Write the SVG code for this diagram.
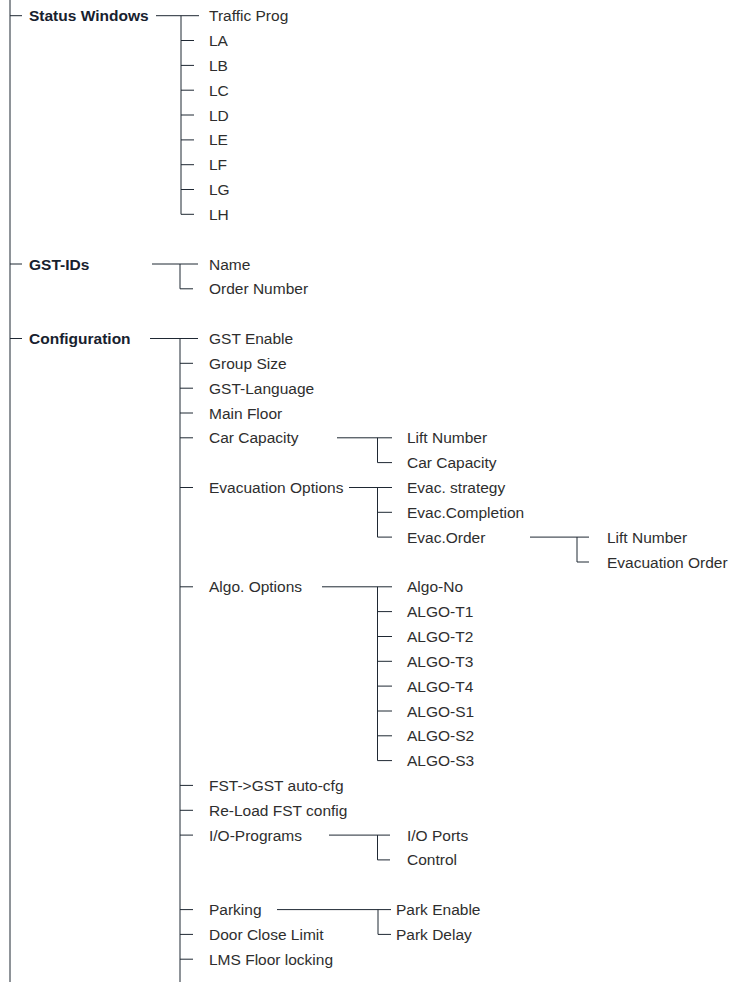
<svg xmlns="http://www.w3.org/2000/svg" width="732" height="982" viewBox="0 0 732 982">
<style>
.b{font-family:"Liberation Sans",Arial,sans-serif;font-size:15.5px;font-weight:bold;fill:#17212e}
.t{font-family:"Liberation Sans",Arial,sans-serif;font-size:15.5px;fill:#2e2e2e}
#connectors path{stroke:#1f2833;stroke-width:1;fill:none}
</style>
<rect width="732" height="982" fill="#ffffff"/>
<g id="connectors">
<path d="M10 0V982"/>
<path d="M10 15.7H22M10 264H22M10 338.5H22"/>
<path d="M156 15.7H199M181 15.7V214.3"/>
<path d="M181 40.5H194M181 65.4H194M181 90.2H194M181 115H194M181 139.9H194M181 164.7H194M181 189.5H194M181 214.3H194"/>
<path d="M152 264H198M180 264V288.8H193"/>
<path d="M150 338.5H198M180 338.5V982"/>
<path d="M180 363.3H193M180 388.2H193M180 413H193M180 437.8H193M180 487.5H193M180 586.8H193M180 785.4H193M180 810.3H193M180 835.1H193M180 909.6H193M180 934.4H193M180 959.2H193"/>
<path d="M337 437.8H392M377.5 437.8V462.6H392"/>
<path d="M349 487.5H392M377.5 487.5V537.1H392M377.5 512.3H392"/>
<path d="M530 537.1H589M577 537.1V562H589"/>
<path d="M322 586.8H392M377.5 586.8V760.6M377.5 611.6H392M377.5 636.5H392M377.5 661.3H392M377.5 686.1H392M377.5 711H392M377.5 735.8H392M377.5 760.6H392"/>
<path d="M329 835.1H390M377.5 835.1V859.9H390"/>
<path d="M277 909.6H391M378 909.6V934.4H391"/>
</g>
<g id="status-windows"><text class="b" x="29" y="21.2">Status Windows</text></g>
<g id="traffic-prog"><text class="t" x="209" y="21.2">Traffic Prog</text></g>
<g id="la"><text class="t" x="209" y="46">LA</text></g>
<g id="lb"><text class="t" x="209" y="70.9">LB</text></g>
<g id="lc"><text class="t" x="209" y="95.7">LC</text></g>
<g id="ld"><text class="t" x="209" y="120.5">LD</text></g>
<g id="le"><text class="t" x="209" y="145.4">LE</text></g>
<g id="lf"><text class="t" x="209" y="170.2">LF</text></g>
<g id="lg"><text class="t" x="209" y="195">LG</text></g>
<g id="lh"><text class="t" x="209" y="219.8">LH</text></g>
<g id="gst-ids"><text class="b" x="29" y="269.5">GST-IDs</text></g>
<g id="name"><text class="t" x="209" y="269.5">Name</text></g>
<g id="order-number"><text class="t" x="209" y="294.3">Order Number</text></g>
<g id="configuration"><text class="b" x="29" y="344">Configuration</text></g>
<g id="gst-enable"><text class="t" x="209" y="344">GST Enable</text></g>
<g id="group-size"><text class="t" x="209" y="368.8">Group Size</text></g>
<g id="gst-language"><text class="t" x="209" y="393.7">GST-Language</text></g>
<g id="main-floor"><text class="t" x="209" y="418.5">Main Floor</text></g>
<g id="car-capacity"><text class="t" x="209" y="443.3">Car Capacity</text></g>
<g id="cc-lift-number"><text class="t" x="407" y="443.3">Lift Number</text></g>
<g id="cc-car-capacity"><text class="t" x="407" y="468.1">Car Capacity</text></g>
<g id="evacuation-options"><text class="t" x="209" y="493">Evacuation Options</text></g>
<g id="evac-strategy"><text class="t" x="407" y="493">Evac. strategy</text></g>
<g id="evac-completion"><text class="t" x="407" y="517.8">Evac.Completion</text></g>
<g id="evac-order"><text class="t" x="407" y="542.6">Evac.Order</text></g>
<g id="eo-lift-number"><text class="t" x="607" y="542.6">Lift Number</text></g>
<g id="evacuation-order"><text class="t" x="607" y="567.5">Evacuation Order</text></g>
<g id="algo-options"><text class="t" x="209" y="592.3">Algo. Options</text></g>
<g id="algo-no"><text class="t" x="407" y="592.3">Algo-No</text></g>
<g id="algo-t1"><text class="t" x="407" y="617.1">ALGO-T1</text></g>
<g id="algo-t2"><text class="t" x="407" y="642">ALGO-T2</text></g>
<g id="algo-t3"><text class="t" x="407" y="666.8">ALGO-T3</text></g>
<g id="algo-t4"><text class="t" x="407" y="691.6">ALGO-T4</text></g>
<g id="algo-s1"><text class="t" x="407" y="716.5">ALGO-S1</text></g>
<g id="algo-s2"><text class="t" x="407" y="741.3">ALGO-S2</text></g>
<g id="algo-s3"><text class="t" x="407" y="766.1">ALGO-S3</text></g>
<g id="fst-gst-auto-cfg"><text class="t" x="209" y="790.9">FST-&gt;GST auto-cfg</text></g>
<g id="reload-fst-config"><text class="t" x="209" y="815.8">Re-Load FST config</text></g>
<g id="io-programs"><text class="t" x="209" y="840.6">I/O-Programs</text></g>
<g id="io-ports"><text class="t" x="407" y="840.6">I/O Ports</text></g>
<g id="control"><text class="t" x="407" y="865.4">Control</text></g>
<g id="parking"><text class="t" x="209" y="915.1">Parking</text></g>
<g id="park-enable"><text class="t" x="396" y="915.1">Park Enable</text></g>
<g id="door-close-limit"><text class="t" x="209" y="939.9">Door Close Limit</text></g>
<g id="park-delay"><text class="t" x="396" y="939.9">Park Delay</text></g>
<g id="lms-floor-locking"><text class="t" x="209" y="964.7">LMS Floor locking</text></g>
</svg>
